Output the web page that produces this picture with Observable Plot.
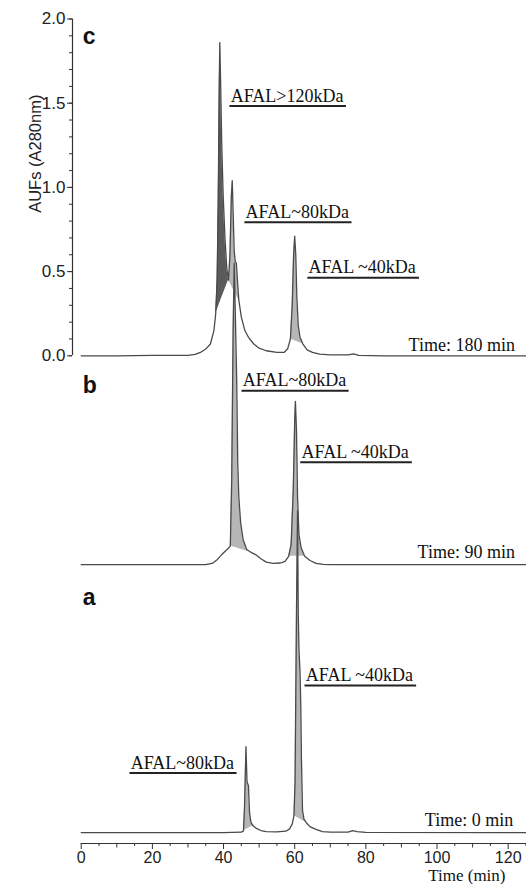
<!DOCTYPE html>
<html><head><meta charset="utf-8">
<script src="https://cdn.jsdelivr.net/npm/d3@7"></script>
<script src="https://cdn.jsdelivr.net/npm/@observablehq/plot@0.6"></script>
<style>
html,body{margin:0;padding:0;background:#fff;}
#chart svg{display:block;}
</style></head><body><div id="chart"></div>
<script>
// ---------- data (time in min, absorbance in AUFs, per panel) ----------
const timeC = [0,10,20,30,32,33.5,35,36.3,37.3,37.8,38.2,38.5,38.8,38.95,39.2,39.5,39.9,40.4,40.9,41.4,41.8,42.2,42.45,42.7,43.0,43.3,43.6,43.9,44.3,45.0,46,47,48.5,50,52,55,57,58,58.8,59.3,59.7,60,60.3,60.6,61,61.5,62.3,63.5,65,67,70,75,76.5,78,85,100,125.15];
const valueC = [0,0,0.002,0.003,0.008,0.02,0.04,0.07,0.15,0.25,0.45,0.9,1.6,1.86,1.6,1.25,0.95,0.7,0.52,0.45,0.6,0.95,1.04,0.85,0.62,0.56,0.55,0.45,0.33,0.23,0.15,0.11,0.07,0.045,0.03,0.02,0.02,0.04,0.1,0.3,0.6,0.71,0.6,0.35,0.18,0.11,0.07,0.035,0.02,0.01,0.005,0.005,0.012,0.003,0,0,0];

const timeB = [0,20,35,37,38.2,39.5,41,41.9,42.3,42.7,43.0,43.3,43.7,44.0,44.3,44.8,45.5,46.5,47.6,49,50.5,52,54,56,57.3,58.3,59.0,59.6,60.0,60.2,60.5,60.8,61.2,61.8,62.8,64.3,66,68,70,125.15];
const valueB = [0,0,0,0.01,0.03,0.06,0.09,0.11,0.5,1.4,1.79,1.5,1.1,0.6,0.4,0.25,0.15,0.09,0.075,0.06,0.035,0.015,0.008,0.01,0.02,0.05,0.12,0.45,0.85,0.97,0.8,0.4,0.18,0.1,0.05,0.025,0.008,0.002,0,0];

const timeA = [0,40,45,45.6,45.9,46.3,46.6,47.0,47.3,47.7,48.3,49.2,50.5,52,55,57.5,58.5,59.3,59.8,60.1,60.5,60.8,61.0,61.2,61.5,61.7,61.9,62.2,62.6,63.2,64.3,65.8,67.8,70,75,76.3,77.5,80,125.15];
const valueA = [0,0,0.002,0.01,0.15,0.51,0.3,0.28,0.12,0.06,0.04,0.025,0.012,0.006,0.004,0.008,0.02,0.05,0.1,0.3,1.3,1.91,1.3,1.09,0.95,0.77,0.43,0.13,0.08,0.06,0.035,0.02,0.006,0.002,0.003,0.012,0.005,0.001,0];

// integrated peak areas (shaded)
const fillPanel = ["c","c","c","b","b","a","a"];
const fillStart = [37.8,41.4,58.8,41.9,58.3,45.6,59.8];
const fillEnd = [41.4,44.3,62.3,47.6,62.8,48.3,63.2];
const fillBaseStart = [0.25,0.45,0.1,0.11,0.05,0.01,0.1];
const fillBaseEnd = [0.45,0.33,0.07,0.075,0.05,0.04,0.06];
const fillShade = ["dark","light","light","light","light","light","light"];

// annotations
const panelNames = ["c","b","a"];
const panelLetterTime = [0.4,0.4,0.4];
const panelLetterValue = [1.85,1.02,1.35];

const labelPanel = ["c","c","c","b","b","a","a"];
const labelText = ["AFAL>120kDa","AFAL~80kDa","AFAL ~40kDa","AFAL~80kDa","AFAL ~40kDa","AFAL~80kDa","AFAL ~40kDa"];
const labelTime = [42.0,46.2,63.9,45.4,61.9,13.9,63.1];
const labelValue = [1.51,0.82,0.49,1.06,0.635,0.38,0.90];

const runPanel = ["c","b","a"];
const runText = ["Time: 180 min","Time: 90 min","Time: 0 min"];
const runTime = [121.9,121.9,121.4];
const runValue = [0.03,0.04,0.04];

const yTicks = [0,0.5,1.0,1.5,2.0];
const yMinorTicks = d3.range(0,2.001,0.1);
const xTicks = [0,20,40,60,80,100,120];
const xMidTicks = [10,30,50,70,90,110];
const xMinorTicks = [5,15,25,35,45,55,65,75,85,95,105,115,125];

// ---------- layout ----------
const W = 526, H = 884, ML = 72, MR = 0, MT = 18.5, MB = 41;
const panelOffset = {c: 0, b: -1.2404, a: -2.831};
const xDomain = [-2.45, 125.15];
const yDomain = [-2.896, 2.0];
const shadeColor = {dark: "#5b5b5b", light: "#b6b6b6"};
const serif = "Liberation Serif, Times New Roman, serif";
const sans = "Liberation Sans, Arial, sans-serif";
const labelSize = 18;

// ---------- build tables ----------
const series = {c: [timeC, valueC], b: [timeB, valueB], a: [timeA, valueA]};
const traceRows = panelNames.flatMap(p => series[p][0].map((t, i) => ({panel: p, t, v: series[p][1][i], y: series[p][1][i] + panelOffset[p]})));

const fillRows = fillPanel.flatMap((p, k) => {
  const [ts, vs] = series[p];
  const out = [];
  ts.forEach((t, i) => {
    if (t >= fillStart[k] - 1e-9 && t <= fillEnd[k] + 1e-9) {
      const f = (t - fillStart[k]) / (fillEnd[k] - fillStart[k]);
      const base = fillBaseStart[k] + f * (fillBaseEnd[k] - fillBaseStart[k]);
      out.push({id: k, shade: fillShade[k], t, y1: base + panelOffset[p], y2: vs[i] + panelOffset[p]});
    }
  });
  return out;
});

const letters = panelNames.map((p, i) => ({text: p, t: panelLetterTime[i], y: panelLetterValue[i] + panelOffset[p]}));
const labels = labelText.map((s, i) => ({text: s, t: labelTime[i], y: labelValue[i] + panelOffset[labelPanel[i]]}));
const runs = runText.map((s, i) => ({text: s, t: runTime[i], y: runValue[i] + panelOffset[runPanel[i]]}));

// underline extents: text width measured in the label font, converted to minutes
const ctx = document.createElement("canvas").getContext("2d");
ctx.font = `${labelSize}px "Liberation Serif", "Times New Roman", serif`;
const pxPerMin = (W - ML - MR) / (xDomain[1] - xDomain[0]);
const underlines = labels.map(d => ({y: d.y, x1: d.t - 0.2, x2: d.t + (ctx.measureText(d.text).width + 3) / pxPerMin}));

const chart = Plot.plot({
  width: W, height: H,
  marginLeft: ML, marginRight: MR, marginTop: MT, marginBottom: MB,
  x: {domain: xDomain, label: null},
  y: {domain: yDomain, label: null},
  style: {background: "white", color: "#222", fontFamily: sans},
  marks: [
    Plot.areaY(fillRows.filter(d => d.shade === "light"), {x: "t", y1: "y1", y2: "y2", z: "id", fill: shadeColor.light, curve: "linear"}),
    Plot.areaY(fillRows.filter(d => d.shade === "dark"), {x: "t", y1: "y1", y2: "y2", z: "id", fill: shadeColor.dark, curve: "linear"}),
    Plot.line(traceRows, {x: "t", y: "y", z: "panel", stroke: "#4a4a4a", strokeWidth: 1.3, curve: "linear"}),
    // y axis (panel c only)
    Plot.ruleX([xDomain[0]], {y1: 0, y2: 2, stroke: "#333", strokeWidth: 1.2}),
    Plot.axisY(yMinorTicks, {anchor: "left", tickSize: 3, tickFormat: () => "", label: null, stroke: "#333"}),
    Plot.axisY(yTicks, {anchor: "left", tickSize: 5, tickPadding: 2, tickFormat: d3.format(".1f"), label: null, fontSize: 17, fontFamily: sans, fill: "#222", stroke: "#333"}),
    Plot.text(["AUFs (A280nm)"], {x: xDomain[0], y: 1.2, rotate: -90, dx: -37, fontSize: 16.5, fontFamily: sans, fill: "#222"}),
    // x axis
    Plot.ruleY([yDomain[0]], {x1: 0, x2: xDomain[1], stroke: "#333", strokeWidth: 1.2}),
    Plot.axisX(xMinorTicks, {anchor: "bottom", tickSize: 3, tickFormat: () => "", label: null, stroke: "#333"}),
    Plot.axisX(xMidTicks, {anchor: "bottom", tickSize: 4.5, tickFormat: () => "", label: null, stroke: "#333"}),
    Plot.axisX(xTicks, {anchor: "bottom", tickSize: 6, tickPadding: 2, tickFormat: d => String(d), label: null, fontSize: 16, fontFamily: sans, fill: "#222", stroke: "#333"}),
    Plot.text(["Time (min)"], {frameAnchor: "bottom-right", dx: -21, dy: 37, textAnchor: "end", lineAnchor: "bottom", fontSize: 17, fontFamily: serif, fill: "#111"}),
    // panel letters
    Plot.text(letters, {x: "t", y: "y", text: "text", textAnchor: "start", lineAnchor: "bottom", fontSize: 23, fontWeight: "bold", fontFamily: sans, fill: "#111"}),
    // peak labels with underlines
    Plot.text(labels, {x: "t", y: "y", text: "text", textAnchor: "start", lineAnchor: "bottom", fontSize: labelSize, fontFamily: serif, fill: "#111"}),
    Plot.ruleY(underlines, {y: "y", x1: "x1", x2: "x2", dy: 4.5, stroke: "#222", strokeWidth: 2}),
    Plot.text(runs, {x: "t", y: "y", text: "text", textAnchor: "end", lineAnchor: "bottom", fontSize: labelSize, fontFamily: serif, fill: "#111"})
  ]
});

document.getElementById("chart").appendChild(chart);
</script>
</body></html>
